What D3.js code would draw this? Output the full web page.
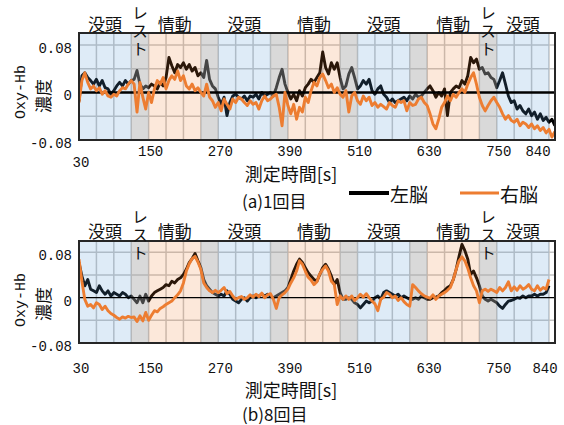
<!DOCTYPE html>
<html>
<head>
<meta charset="utf-8">
<script src="https://cdn.jsdelivr.net/npm/d3@7"></script>
<style>
body { margin: 0; background: #fff; }
text { font-family: "Noto Sans CJK JP", sans-serif; fill: #111; }
.num { font-family: "Liberation Mono", monospace; }
</style>
</head>
<body>
<script>
'use strict';

// sampling times [s]
var timesA = d3.range(30, 851, 5);
var timesB = d3.range(30, 841, 5);

// Oxy-Hb, in units of 0.001, every 5 s
// (a) 1st trial
var leftA = [
  -15, 28, 33, 25, 20, 14, 22, 11, 20, 8, 6, -3, 3, 11, 17, 11, 20, 14, 20, 22,
  37, 14, 6, 11, 8, 14, 11, 6, 17, 11, 25, 59, 45, 33, 47, 42, 50, 39, 47, 36,
  42, 28, 33, 25, 54, 22, 11, 6, -8, -20, -8, -39, -17, -6, -3, -8, -11, -6, -14, -6,
  -8, -3, -11, 0, -6, -3, 0, -6, 8, 25, 39, 14, 0, -11, -3, -14, 3, -6, 8, 14,
  22, 17, 25, 33, 68, 42, 31, 50, 39, 50, 25, 6, 11, 31, 42, 25, 6, 11, 20, 14,
  22, 3, -3, 6, 11, -3, -8, -17, -11, -17, -14, -11, -8, -14, -6, -11, -3, -8, -6, 0,
  6, 11, 3, -8, 0, -6, 6, -39, 0, 6, 11, 8, 20, 14, 28, 59, 50, 56, 39, 42,
  31, 33, 25, 22, 8, 20, 33, 14, -6, -17, -14, -28, -22, -31, -36, -28, -39, -33, -45, -36,
  -47, -42, -50, -45, -56
];
var rightA = [
  -17, 20, 33, 17, 6, 11, 3, 8, -3, 3, -6, -8, -3, -6, 3, 8, 6, 14, 20, 14,
  -33, 17, -8, -28, 0, -17, 6, 20, 14, 25, 6, 20, 28, 22, 36, 20, 28, 11, 6, 14,
  3, 8, 0, -6, 14, -8, -14, -25, -17, -31, -11, -20, -28, -11, -17, -8, -11, -17, -22, -14,
  -20, -17, -28, -14, -6, -14, -11, -6, -3, -25, -56, 0, -22, -36, -20, -45, -25, -33, -8, -17,
  3, 17, 11, 25, 31, 20, 8, 14, 0, 8, -3, -8, 3, -33, -6, 0, -14, -20, -6, -14,
  -8, -22, -17, -25, -20, -24, -28, -17, -22, -25, -14, -17, -14, -31, -17, -22, -20, -11, -8, -17,
  -22, -36, -53, -61, -45, -25, -17, -6, -14, -3, -8, 0, 6, 0, 14, 25, 33, 14, -8, -22,
  -31, -22, -14, -8, -17, -25, -36, -45, -39, -47, -50, -45, -56, -50, -53, -59, -53, -61, -56, -64,
  -59, -68, -62, -75, -66
];
// (b) 8th trial
var leftB = [
  62, 38, 21, 32, 15, 12, 9, 21, 12, 6, 12, 3, 9, 6, 3, 9, 6, 0, 3, -3,
  -9, 3, -9, 6, -6, 3, 9, 12, 15, 18, 23, 21, 29, 26, 32, 35, 41, 50, 62, 69,
  78, 65, 53, 32, 21, 15, 9, 6, 3, 6, 3, 12, 6, -3, -6, -9, -3, 0, -6, 0,
  3, 0, 3, 6, 3, 6, 3, 0, 3, 6, 9, 12, 18, 32, 47, 59, 68, 62, 53, 44,
  38, 32, 29, 41, 53, 59, 50, 38, 23, 32, 9, -3, -3, 0, -3, -9, -12, -18, -12, -6,
  -9, -6, 0, 3, -3, 9, 12, 9, 6, 3, 6, 0, 3, 0, -3, -3, 0, -3, 3, 0,
  -3, -3, 0, 1, 3, 9, 13, 18, 21, 32, 50, 73, 94, 83, 68, 41, 47, 35, 21, 3,
  -3, -6, -3, -6, -9, -15, -19, -12, -6, -5, -3, 0, -1, 3, 0, 3, 3, 6, 3, 6,
  6, 9, 21
];
var rightB = [
  68, 29, -3, -15, -12, -18, -9, -12, -21, -15, -23, -28, -31, -35, -38, -34, -36, -33, -35, -34,
  -42, -32, -41, -26, -40, -31, -23, -25, -19, -16, -12, -9, -6, 0, 5, 12, 26, 47, 60, 69,
  73, 63, 50, 26, 18, 12, 9, 13, 9, 13, 18, 7, 11, 3, -3, 0, 2, -3, 0, 5,
  1, 6, 2, 8, 0, 5, 7, -3, -19, 0, 5, 9, 15, 26, 35, 47, 65, 59, 47, 36,
  31, 23, 28, 42, 50, 56, 47, 29, 23, -12, 3, -3, 3, -3, 3, -5, 0, 6, 1, 7,
  0, -6, -11, -23, -3, 1, 9, 6, 0, 3, -5, 0, -7, -12, -15, 23, 18, 12, 7, 3,
  1, -1, 5, -3, 3, 6, 9, 13, 18, 32, 50, 65, 72, 65, 52, 35, 21, 12, -9, 12,
  15, 11, 15, 12, 9, 18, 12, 18, 28, 12, 19, 13, 21, 15, 18, 23, 15, 12, 21, 13,
  18, 15, 32
];

// task blocks
var phaseStart = [30, 120, 150, 240, 270, 360, 390, 480, 510, 600, 630, 720, 750];
var phaseEnd   = [120, 150, 240, 270, 360, 390, 480, 510, 600, 630, 720, 750, 840];
var phaseName  = ['没頭', 'レスト', '情動', 'レスト', '没頭', 'レスト', '情動', 'レスト', '没頭', 'レスト', '情動', 'レスト', '没頭'];
var phaseLabel = [true, true, true, false, true, false, true, false, true, false, true, true, true];

var xTicks = [30, 150, 270, 390, 510, 630, 750, 840];
var xGrid = d3.range(60, 841, 30);
var yTicks = [0.08, 0, -0.08];
var yTickText = ['0.08', '0', '-0.08'];
var yGrid = [-0.04, 0.04, 0.08];

var phaseFill = {
  '没頭': ['#5B9BD5', 0.2],
  '情動': ['#ED7D31', 0.18],
  'レスト': ['#A5A5A5', 0.42]
};

function scaled(arr) {
  return arr.map(function(d) { return d / 1000; });
}

var svg = d3.select('body').append('svg')
  .attr('width', 564)
  .attr('height', 425);

var xLeft = 79, xRight = 555;
var x = d3.scaleLinear().domain([30, 840]).range([79, 549]);

var panels = [
  {id: 'a', top: 33, bottom: 140, times: timesA, left: scaled(leftA), right: scaled(rightA),
   caption: '(a)1回目', tickY: 156, firstTickY: 167, lastDx: -11, titleY: 173, capY: 200,
   zeroW: 2.5, labelY: 23, restTop: 5, titleMid: 92, legend: true},
  {id: 'b', top: 241, bottom: 343, times: timesB, left: scaled(leftB), right: scaled(rightB),
   caption: '(b)8回目', tickY: 373, firstTickY: 373, lastDx: -4, titleY: 389, capY: 413,
   zeroW: 1.3, labelY: 230, restTop: 209, titleMid: 300, legend: false}
];

panels.forEach(function(p) {
  var y = d3.scaleLinear().domain([-0.08, 0.1]).range([p.bottom, p.top]);
  var g = svg.append('g');

  g.append('clipPath').attr('id', 'clip-' + p.id)
    .append('rect')
    .attr('x', xLeft).attr('y', p.top)
    .attr('width', xRight - xLeft).attr('height', p.bottom - p.top);

  // grid
  g.selectAll('.vg').data(xGrid).enter().append('line')
    .attr('x1', x).attr('x2', x)
    .attr('y1', p.top).attr('y2', p.bottom)
    .attr('stroke', '#c4c4c4').attr('stroke-width', 1.5);
  g.selectAll('.hg').data(yGrid).enter().append('line')
    .attr('x1', xLeft).attr('x2', xRight)
    .attr('y1', y).attr('y2', y)
    .attr('stroke', '#c4c4c4').attr('stroke-width', 1.5);

  var line = d3.line()
    .x(function(d) { return x(d[0]); })
    .y(function(d) { return y(d[1]); });

  // left brain (under the block tint)
  g.append('path')
    .datum(d3.zip(p.times, p.left))
    .attr('clip-path', 'url(#clip-' + p.id + ')')
    .attr('d', line)
    .attr('fill', 'none')
    .attr('stroke', '#000')
    .attr('stroke-width', 2.9)
    .attr('stroke-linejoin', 'round');

  // block tint
  g.selectAll('.blk').data(phaseStart).enter().append('rect')
    .attr('x', function(d) { return x(d); })
    .attr('y', p.top)
    .attr('width', function(d, i) { return x(phaseEnd[i]) - x(d); })
    .attr('height', p.bottom - p.top)
    .attr('fill', function(d, i) { return phaseFill[phaseName[i]][0]; })
    .attr('fill-opacity', function(d, i) { return phaseFill[phaseName[i]][1]; });

  // zero line
  g.append('line')
    .attr('x1', xLeft).attr('x2', xRight)
    .attr('y1', y(0)).attr('y2', y(0))
    .attr('stroke', '#000').attr('stroke-width', p.zeroW);

  // right brain
  g.append('path')
    .datum(d3.zip(p.times, p.right))
    .attr('clip-path', 'url(#clip-' + p.id + ')')
    .attr('d', line)
    .attr('fill', 'none')
    .attr('stroke', '#ED7D31')
    .attr('stroke-width', 2.9)
    .attr('stroke-linejoin', 'round');

  // frame
  g.append('rect')
    .attr('x', xLeft).attr('y', p.top)
    .attr('width', xRight - xLeft).attr('height', p.bottom - p.top)
    .attr('fill', 'none').attr('stroke', '#262626').attr('stroke-width', 2);

  // y tick labels
  g.selectAll('.yt').data(yTicks).enter().append('text')
    .attr('class', 'num')
    .attr('x', 72)
    .attr('y', function(d) { return y(d) + 8; })
    .attr('text-anchor', 'end')
    .attr('font-size', 14)
    .text(function(d, i) { return yTickText[i]; });

  // x tick labels
  g.selectAll('.xt').data(xTicks).enter().append('text')
    .attr('class', 'num')
    .attr('x', function(d, i) { return x(d) + (i === xTicks.length - 1 ? p.lastDx : 2); })
    .attr('y', function(d, i) { return i === 0 ? p.firstTickY : p.tickY; })
    .attr('text-anchor', 'middle')
    .attr('font-size', 14)
    .text(function(d) { return d; });

  // block names above the plot
  g.selectAll('.pl').data(phaseStart.filter(function(d, i) { return phaseLabel[i] && phaseName[i] !== 'レスト'; }))
    .enter().append('text')
    .attr('x', function(d) { var i = phaseStart.indexOf(d); return x((d + phaseEnd[i]) / 2); })
    .attr('y', p.labelY)
    .attr('dominant-baseline', 'central')
    .attr('text-anchor', 'middle')
    .attr('font-size', 17)
    .text(function(d) { return phaseName[phaseStart.indexOf(d)]; });

  // vertical "レスト"
  g.selectAll('.rl').data(phaseStart.filter(function(d, i) { return phaseLabel[i] && phaseName[i] === 'レスト'; }))
    .enter().append('text')
    .attr('x', function(d) { var i = phaseStart.indexOf(d); return x((d + phaseEnd[i]) / 2); })
    .attr('y', p.restTop)
    .style('writing-mode', 'vertical-rl')
    .style('letter-spacing', '2px')
    .attr('font-size', 16)
    .text('レスト');

  // y axis title
  var yt = g.append('g').attr('transform', 'translate(0,' + p.titleMid + ') rotate(-90)');
  yt.append('text').attr('class', 'num')
    .attr('x', 0).attr('y', 21)
    .attr('dominant-baseline', 'central').attr('text-anchor', 'middle')
    .attr('font-size', 15).text('Oxy-Hb');
  yt.append('text')
    .attr('x', -4).attr('y', 42)
    .attr('dominant-baseline', 'central').attr('text-anchor', 'middle')
    .attr('font-size', 17).text('濃度');

  // x axis title + caption
  g.append('text')
    .attr('x', 291).attr('y', p.titleY)
    .attr('dominant-baseline', 'central').attr('text-anchor', 'middle')
    .attr('font-size', 18).text('測定時間[s]');
  g.append('text')
    .attr('x', 242).attr('y', p.capY)
    .attr('dominant-baseline', 'central')
    .attr('font-size', 17).text(p.caption);

  if (p.legend) {
    var lg = g.append('g');
    lg.append('line').attr('x1', 349).attr('x2', 389).attr('y1', 193).attr('y2', 193)
      .attr('stroke', '#000').attr('stroke-width', 4);
    lg.append('text').attr('x', 390).attr('y', 193)
      .attr('dominant-baseline', 'central').attr('font-size', 19).text('左脳');
    lg.append('line').attr('x1', 460).attr('x2', 499).attr('y1', 193).attr('y2', 193)
      .attr('stroke', '#ED7D31').attr('stroke-width', 3);
    lg.append('text').attr('x', 500).attr('y', 193)
      .attr('dominant-baseline', 'central').attr('font-size', 19).text('右脳');
  }
});
</script>
</body>
</html>
